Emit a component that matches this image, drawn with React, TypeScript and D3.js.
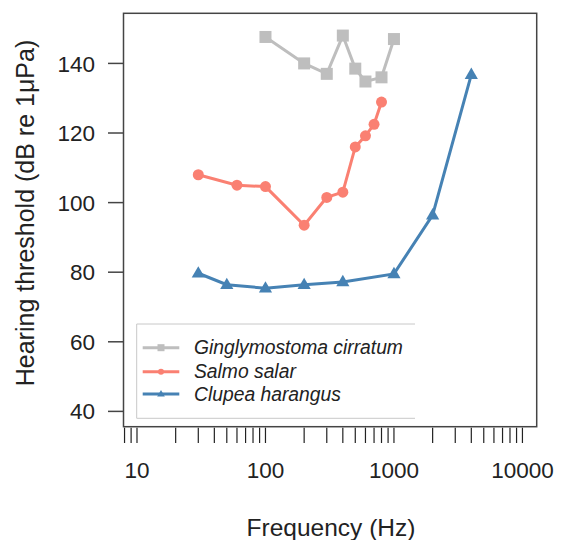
import React from "react";
import * as d3 from "d3";

const ginglymostomaFreq = [100, 200, 300, 400, 500, 600, 800, 1000];
const ginglymostomaDb = [147.6, 140, 137, 148, 138.5, 134.8, 136, 147];

const salmoFreq = [30, 60, 100, 200, 300, 400, 500, 600, 700, 800];
const salmoDb = [108, 105, 104.6, 93.5, 101.5, 103, 116, 119.2, 122.5, 128.9];

const clupeaFreq = [30, 50, 100, 200, 400, 1000, 2000, 4000];
const clupeaDb = [79.7, 76.4, 75.4, 76.4, 77.2, 79.5, 96.4, 136.8];

const yTicks = [40, 60, 80, 100, 120, 140];
const xLabelTicks = [10, 100, 1000, 10000];
const xMinorTicks = [8, 9, 10, 20, 30, 40, 50, 60, 70, 80, 90, 100, 200, 300, 400, 500, 600, 700, 800, 900, 1000, 2000, 3000, 4000, 5000, 6000, 7000, 8000, 9000, 10000];

const seriesNames = ["Ginglymostoma cirratum", "Salmo salar", "Clupea harangus"];
const seriesColors = ["#BEBEBE", "#FA8072", "#4682B4"];

const W = 564;
const H = 540;
const L = 123.5, R = 536.7, T = 13.3, B = 426.7;
const FONT = "'Liberation Sans', Arial, sans-serif";

export default function App() {
  const x = d3.scaleLog().domain([Math.pow(10, 0.895), Math.pow(10, 4.111)]).range([L, R]);
  const y = d3.scaleLinear().domain([35.6, 154.4]).range([B, T]);
  const line = d3.line<[number, number]>().x((d) => x(d[0])).y((d) => y(d[1]));

  const series = [
    { f: ginglymostomaFreq, v: ginglymostomaDb },
    { f: salmoFreq, v: salmoDb },
    { f: clupeaFreq, v: clupeaDb },
  ];

  const marker = (k: number, cx: number, cy: number, s: number, key: string) => {
    const c = seriesColors[k];
    if (k === 0) return <rect key={key} x={cx - s} y={cy - s} width={2 * s} height={2 * s} fill={c} />;
    if (k === 1) return <circle key={key} cx={cx} cy={cy} r={s} fill={c} />;
    const h = s * 1.9;
    const pts = `${cx},${cy - h * 0.62} ${cx - s * 1.1},${cy + h * 0.38} ${cx + s * 1.1},${cy + h * 0.38}`;
    return <polygon key={key} points={pts} fill={c} />;
  };

  const legX = 136.7, legY = 324, legR = 415, legB = 418.3;
  const legRows = [347.7, 371.7, 394];

  return (
    <svg width={W} height={H} style={{ position: "absolute", left: 0, top: 0, background: "#fff" }} fontFamily={FONT}>
      <rect x={0} y={0} width={W} height={H} fill="#fff" />
      {series.map((s, k) => (
        <g key={k}>
          <path d={line(s.f.map((f, i) => [f, s.v[i]] as [number, number])) || ""} fill="none" stroke={seriesColors[k]} strokeWidth={3} />
          {s.f.map((f, i) => marker(k, x(f), y(s.v[i]), k === 0 ? 6 : k === 1 ? 5.5 : 6, `${k}-${i}`))}
        </g>
      ))}
      {/* legend */}
      <g>
        <line x1={legX} y1={legY} x2={legR} y2={legY} stroke="#c8c8c8" strokeWidth={1} />
        <line x1={legX} y1={legY} x2={legX} y2={legB} stroke="#c8c8c8" strokeWidth={1} />
        <line x1={legX} y1={legB} x2={legR} y2={legB} stroke="#c8c8c8" strokeWidth={1} />
        {seriesNames.map((n, k) => (
          <g key={n}>
            <line x1={142.7} x2={179.3} y1={legRows[k]} y2={legRows[k]} stroke={seriesColors[k]} strokeWidth={3} />
            {marker(k, 161, legRows[k], k === 0 ? 3.5 : k === 1 ? 3 : 3.5, `leg${k}`)}
            <text x={194} y={legRows[k]} dy="0.35em" fontSize={19.3} fontStyle="italic" fill="#222">{n}</text>
          </g>
        ))}
      </g>
      {/* box */}
      <rect x={L} y={T} width={R - L} height={B - T} fill="none" stroke="#444" strokeWidth={1.5} />
      {/* y axis */}
      {yTicks.map((t) => (
        <g key={t}>
          <line x1={108} x2={L} y1={y(t)} y2={y(t)} stroke="#444" strokeWidth={1.5} />
          <text x={95} y={y(t)} dy="0.36em" textAnchor="end" fontSize={22.5} fill="#222">{t}</text>
        </g>
      ))}
      {/* x axis */}
      {xMinorTicks.map((t) => (
        <line key={t} x1={x(t)} x2={x(t)} y1={B + 1} y2={443} stroke="#222" strokeWidth={1.2} />
      ))}
      {xLabelTicks.map((t) => (
        <text key={t} x={x(t)} y={478} textAnchor="middle" fontSize={22.5} fill="#222">{t}</text>
      ))}
      <text x={331} y={536} textAnchor="middle" fontSize={24.5} fill="#222">Frequency (Hz)</text>
      <text transform={`translate(34,213) rotate(-90)`} textAnchor="middle" fontSize={25} fill="#222">Hearing threshold (dB re 1μPa)</text>
    </svg>
  );
}
